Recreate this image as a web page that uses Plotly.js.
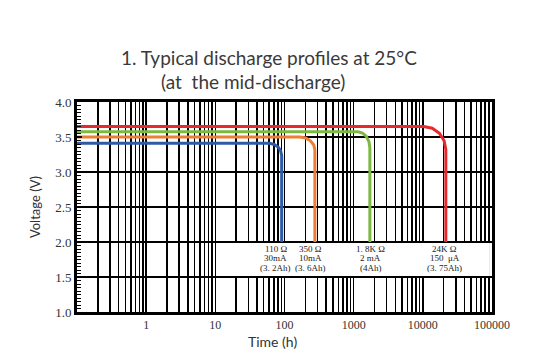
<!DOCTYPE html>
<html>
<head>
<meta charset="utf-8">
<script src="https://cdn.plot.ly/plotly-3.0.1.min.js"></script>
<style>html,body{margin:0;padding:0;background:#fff;}#chart{width:557px;height:353px;}</style>
</head>
<body>
<div id="chart"></div>
<script>
// ---- data ----
const blueTime   = [0.1, 61, 71, 81, 88, 91, 91];
const blueVolt   = [3.41, 3.41, 3.394, 3.357, 3.301, 3.236, 2.0];
const orangeTime = [0.1, 167, 202, 237, 265, 275, 275];
const orangeVolt = [3.50, 3.50, 3.486, 3.446, 3.386, 3.314, 2.0];
const greenTime  = [0.1, 1150, 1341, 1526, 1664, 1715, 1715];
const greenVolt  = [3.574, 3.574, 3.557, 3.507, 3.433, 3.346, 2.0];
const redTime    = [0.1, 10340, 13670, 17380, 20320, 21500, 21500];
const redVolt    = [3.65, 3.65, 3.625, 3.554, 3.447, 3.321, 2.0];

const xTickVals = [1, 10, 100, 1000, 10000, 100000];
const xTickText = ['1', '10', '100', '1000', '10000', '100000'];

const labelTimes = [75, 240, 1770, 20800];
const labelLine1 = ['110 Ω', '350 Ω', '1. 8K Ω', '24K Ω'];
const labelLine2 = ['30mA', '10mA', '2 mA', '150  μA'];
const labelLine3 = ['(3. 2Ah)', '(3. 6Ah)', '(4Ah)', '(3. 75Ah)'];

const titleLine1 = '1. Typical discharge profiles at 25°C';
const titleLine2 = '(at  the mid-discharge)';
const yTitle = 'Voltage (V)';
const xTitle = 'Time (h)';

// ---- build ----
const colors = {blue:'#2f5aa6', orange:'#ee7e32', green:'#7cb93e', red:'#e52a2e'};
const series = [
  [blueTime, blueVolt, colors.blue],
  [orangeTime, orangeVolt, colors.orange],
  [greenTime, greenVolt, colors.green],
  [redTime, redVolt, colors.red]
];
const traces = series.map(s => ({
  x: s[0], y: s[1], type: 'scatter', mode: 'lines',
  line: {color: s[2], width: 3, shape: 'linear'},
  hoverinfo: 'skip', showlegend: false
}));

const gridVals = [];
for (let e = -1; e < 5; e++) for (let d = 2; d <= 9; d++) gridVals.push(d * Math.pow(10, e));

const serif = 'Liberation Serif, DejaVu Serif, serif';
const sans = 'Lato, Noto Sans, sans-serif';

const annotations = [];
const lineY = [1.905, 1.77, 1.625];
[labelLine1, labelLine2, labelLine3].forEach((arr, li) => {
  arr.forEach((txt, i) => {
    annotations.push({x: Math.log10(labelTimes[i]), y: lineY[li], xref: 'x', yref: 'y',
      text: txt, showarrow: false, font: {family: serif, size: 9, color: '#222'},
      xanchor: 'center', yanchor: 'middle'});
  });
});
annotations.push({x: 0.4627, y: 1.212, xref: 'paper', yref: 'paper', text: titleLine1, showarrow: false,
  font: {family: sans, size: 19, color: '#3a3a3a'}, xanchor: 'center', yanchor: 'middle'});
annotations.push({x: 0.424, y: 1.098, xref: 'paper', yref: 'paper', text: titleLine2, showarrow: false,
  font: {family: sans, size: 19, color: '#3a3a3a'}, xanchor: 'center', yanchor: 'middle'});
annotations.push({x: -0.101, y: 0.5, xref: 'paper', yref: 'paper', text: yTitle, showarrow: false, textangle: -90,
  font: {family: sans, size: 13, color: '#333'}, xanchor: 'center', yanchor: 'middle'});
annotations.push({x: 0.472, y: -0.14, xref: 'paper', yref: 'paper', text: xTitle, showarrow: false,
  font: {family: sans, size: 14, color: '#333'}, xanchor: 'center', yanchor: 'middle'});

const layout = {
  width: 557, height: 353,
  margin: {l: 77, r: 65, t: 102, b: 41, pad: 0},
  paper_bgcolor: '#fff', plot_bgcolor: '#fff',
  showlegend: false,
  xaxis: {
    type: 'log', range: [-1, 5],
    tickmode: 'array', tickvals: xTickVals, ticktext: xTickText,
    showgrid: true, gridcolor: '#000', gridwidth: 1.6,
    minor: {tickmode: 'array', tickvals: gridVals, showgrid: true, gridcolor: '#000', gridwidth: 1.6, ticks: ''},
    showline: true, linecolor: '#000', linewidth: 3, mirror: true,
    ticks: '', zeroline: false,
    tickfont: {family: serif, size: 12, color: '#333'}
  },
  yaxis: {
    range: [1, 4], dtick: 0.5, tick0: 1, tickformat: '.1f',
    showgrid: true, gridcolor: '#000', gridwidth: 1.6,
    ticks: 'inside', ticklen: 5, tickcolor: '#000', tickwidth: 1.5,
    minor: {dtick: 0.05, ticks: 'inside', ticklen: 4, tickcolor: '#000', tickwidth: 1, showgrid: false},
    showline: true, linecolor: '#000', linewidth: 3, mirror: true,
    zeroline: false,
    tickfont: {family: serif, size: 13, color: '#333'}
  },
  shapes: [{type: 'rect', xref: 'paper', yref: 'y', x0: 0.379, x1: 0.995, y0: 1.515, y1: 1.985,
    fillcolor: '#fff', line: {width: 0}, layer: 'above'}],
  annotations: annotations
};

Plotly.newPlot('chart', traces, layout, {staticPlot: true, displayModeBar: false});
</script>
</body>
</html>
